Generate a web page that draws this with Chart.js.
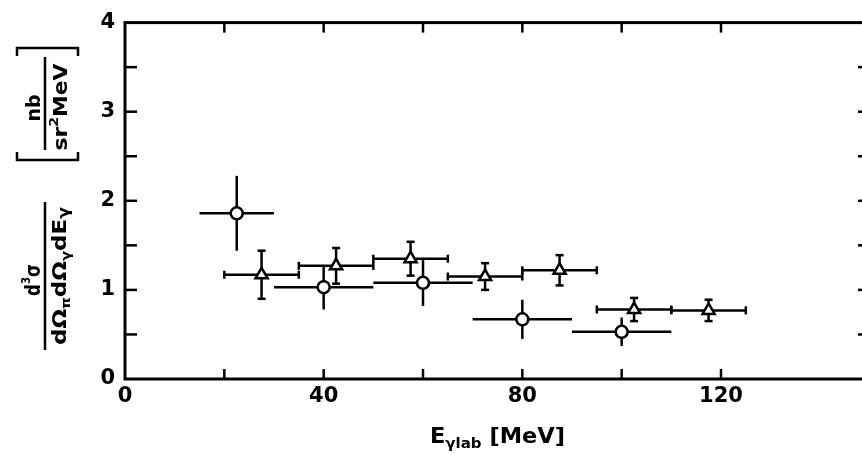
<!DOCTYPE html>
<html><head><meta charset="utf-8">
<script src="https://cdn.jsdelivr.net/npm/chart.js@4.4.1/dist/chart.umd.min.js"></script>
<style>html,body{margin:0;padding:0;background:#fff;overflow:hidden;width:862px;height:455px}canvas{display:block}</style>
</head><body><canvas id="c" width="880" height="455"></canvas>
<script>
// ---- data ----
const circleE = [22.5, 40, 60, 80, 100];
const circleEHalfBin = [7.5, 10, 10, 10, 10];
const circleSigma = [1.86, 1.03, 1.08, 0.67, 0.53];
const circleSigmaErr = [0.42, 0.25, 0.26, 0.22, 0.16];

const triE = [27.5, 42.5, 57.5, 72.5, 87.5, 102.5, 117.5];
const triEHalfBin = [7.5, 7.5, 7.5, 7.5, 7.5, 7.5, 7.5];
const triSigma = [1.17, 1.27, 1.35, 1.15, 1.22, 0.78, 0.77];
const triSigmaErr = [0.27, 0.20, 0.19, 0.15, 0.17, 0.13, 0.12];

const xTickLabels = [0, 40, 80, 120];
const yTickLabels = [0, 1, 2, 3, 4];

const FONT = '"DejaVu Sans", sans-serif';
const INK = '#000';

function toPoints(xs, ys){ return xs.map((x,i)=>({x:x, y:ys[i]})); }

function drawRun(ctx, pieces, targetLen){
  let total = 0;
  pieces.forEach(p=>{ ctx.font = 'bold '+p.size+'px '+FONT; p.w = ctx.measureText(p.t).width; total += p.w; });
  const s = targetLen ? targetLen/total : 1;
  ctx.save();
  ctx.scale(s,1);
  let u = -total/2;
  ctx.textBaseline = 'alphabetic'; ctx.textAlign = 'left'; ctx.fillStyle = INK;
  pieces.forEach(p=>{ ctx.font = 'bold '+p.size+'px '+FONT; ctx.fillText(p.t, u, p.dy||0); u += p.w; });
  ctx.restore();
}
function drawRotRun(ctx, pieces, baseX, centerY, targetLen){
  ctx.save(); ctx.translate(baseX, centerY); ctx.rotate(-Math.PI/2);
  drawRun(ctx, pieces, targetLen); ctx.restore();
}
function line(ctx,x0,y0,x1,y1){ ctx.beginPath(); ctx.moveTo(x0,y0); ctx.lineTo(x1,y1); ctx.stroke(); }

function drawErrors(chart, xs, xe, ys, ye, cap){
  const ctx = chart.ctx, X = chart.scales.x, Y = chart.scales.y;
  ctx.save(); ctx.strokeStyle = INK; ctx.lineWidth = 2.5; ctx.lineCap = 'butt';
  for (let i=0;i<xs.length;i++){
    const px = X.getPixelForValue(xs[i]), py = Y.getPixelForValue(ys[i]);
    const x0 = X.getPixelForValue(xs[i]-xe[i]), x1 = X.getPixelForValue(xs[i]+xe[i]);
    const y0 = Y.getPixelForValue(ys[i]-ye[i]), y1 = Y.getPixelForValue(ys[i]+ye[i]);
    line(ctx,x0,py,x1,py); line(ctx,px,y0,px,y1);
    if (cap){
      line(ctx,x0,py-4,x0,py+4); line(ctx,x1,py-4,x1,py+4);
      line(ctx,px-4,y0,px+4,y0); line(ctx,px-4,y1,px+4,y1);
    }
  }
  ctx.restore();
}

const framePlugin = {
  id:'frame',
  beforeDatasetsDraw(chart){
    drawErrors(chart, circleE, circleEHalfBin, circleSigma, circleSigmaErr, false);
    drawErrors(chart, triE, triEHalfBin, triSigma, triSigmaErr, true);
  },
  afterDraw(chart){
    const ctx = chart.ctx, a = chart.chartArea, X = chart.scales.x, Y = chart.scales.y;
    ctx.save(); ctx.strokeStyle = INK;
    ctx.lineWidth = 3; ctx.strokeRect(a.left, a.top, a.right-a.left, a.bottom-a.top);
    ctx.lineWidth = 2.5;
    X.ticks.forEach(t=>{ if (t.value>0 && t.value<X.max && t.value%20===0){ const p = X.getPixelForValue(t.value);
      line(ctx,p,a.bottom,p,a.bottom-10); line(ctx,p,a.top,p,a.top+10);} });
    Y.ticks.forEach(t=>{ if (t.value>0 && t.value<Y.max){ const p = Y.getPixelForValue(t.value);
      line(ctx,a.left,p,a.left+12,p); line(ctx,a.right,p,a.right-12,p);} });
    // x title
    ctx.save(); ctx.translate((a.left+a.right)/2, 443);
    drawRun(ctx, [{t:'E',size:21},{t:'γlab',size:14,dy:5},{t:' [MeV]',size:21}], 135);
    ctx.restore();
    // y title: fraction
    drawRotRun(ctx, [{t:'d',size:21},{t:'3',size:13,dy:-10},{t:'σ',size:21}], 40, 280, 32);
    ctx.lineWidth = 2.5; line(ctx,45,202,45,350);
    drawRotRun(ctx, [{t:'dΩ',size:20},{t:'π',size:13,dy:4},{t:'dΩ',size:20},{t:'γ',size:13,dy:4},{t:'dE',size:20},{t:'γ',size:15,dy:3}], 66, 276, 138);
    // units in brackets
    ctx.beginPath(); ctx.moveTo(17,152); ctx.lineTo(17,160); ctx.lineTo(78,160); ctx.lineTo(78,152); ctx.stroke();
    ctx.beginPath(); ctx.moveTo(17,56); ctx.lineTo(17,48); ctx.lineTo(78,48); ctx.lineTo(78,56); ctx.stroke();
    line(ctx,45,57,45,150);
    drawRotRun(ctx, [{t:'nb',size:20}], 40, 108, 27);
    drawRotRun(ctx, [{t:'sr',size:20},{t:'2',size:13,dy:-9},{t:'MeV',size:20}], 67, 107, 87);
    ctx.restore();
  }
};

new Chart(document.getElementById('c'), {
  type:'scatter',
  data:{ datasets:[
    { label:'circles', data: toPoints(circleE, circleSigma), pointStyle:'circle', pointRadius:6,
      pointBackgroundColor:'#fff', pointBorderColor:INK, pointBorderWidth:2.5, showLine:false },
    { label:'triangles', data: toPoints(triE, triSigma), pointStyle:'triangle', pointRadius:7,
      pointBackgroundColor:'#fff', pointBorderColor:INK, pointBorderWidth:2.5, showLine:false }
  ]},
  options:{
    responsive:false, animation:false, devicePixelRatio:1,
    layout:{ padding:{ left:0, top:21, right:10, bottom:0 } },
    plugins:{ legend:{display:false}, tooltip:{enabled:false} },
    scales:{
      x:{ type:'linear', min:0, max:150,
          grid:{ display:false, drawTicks:false }, border:{ display:false },
          ticks:{ stepSize:20, padding:5, color:INK, font:{family:FONT, size:21, weight:'bold'},
                  maxRotation:0, autoSkip:false,
                  callback:(v)=> xTickLabels.includes(v) ? String(v) : '' },
          afterFit:(s)=>{ s.height = 76; } },
      y:{ type:'linear', min:0, max:4,
          grid:{ display:false, drawTicks:false }, border:{ display:false },
          ticks:{ stepSize:0.5, padding:10, color:INK, font:{family:FONT, size:21, weight:'bold'},
                  autoSkip:false,
                  callback:(v)=> yTickLabels.includes(v) ? String(v) : '' },
          afterFit:(s)=>{ s.width = 125; } }
    }
  },
  plugins:[framePlugin]
});
</script></body></html>
